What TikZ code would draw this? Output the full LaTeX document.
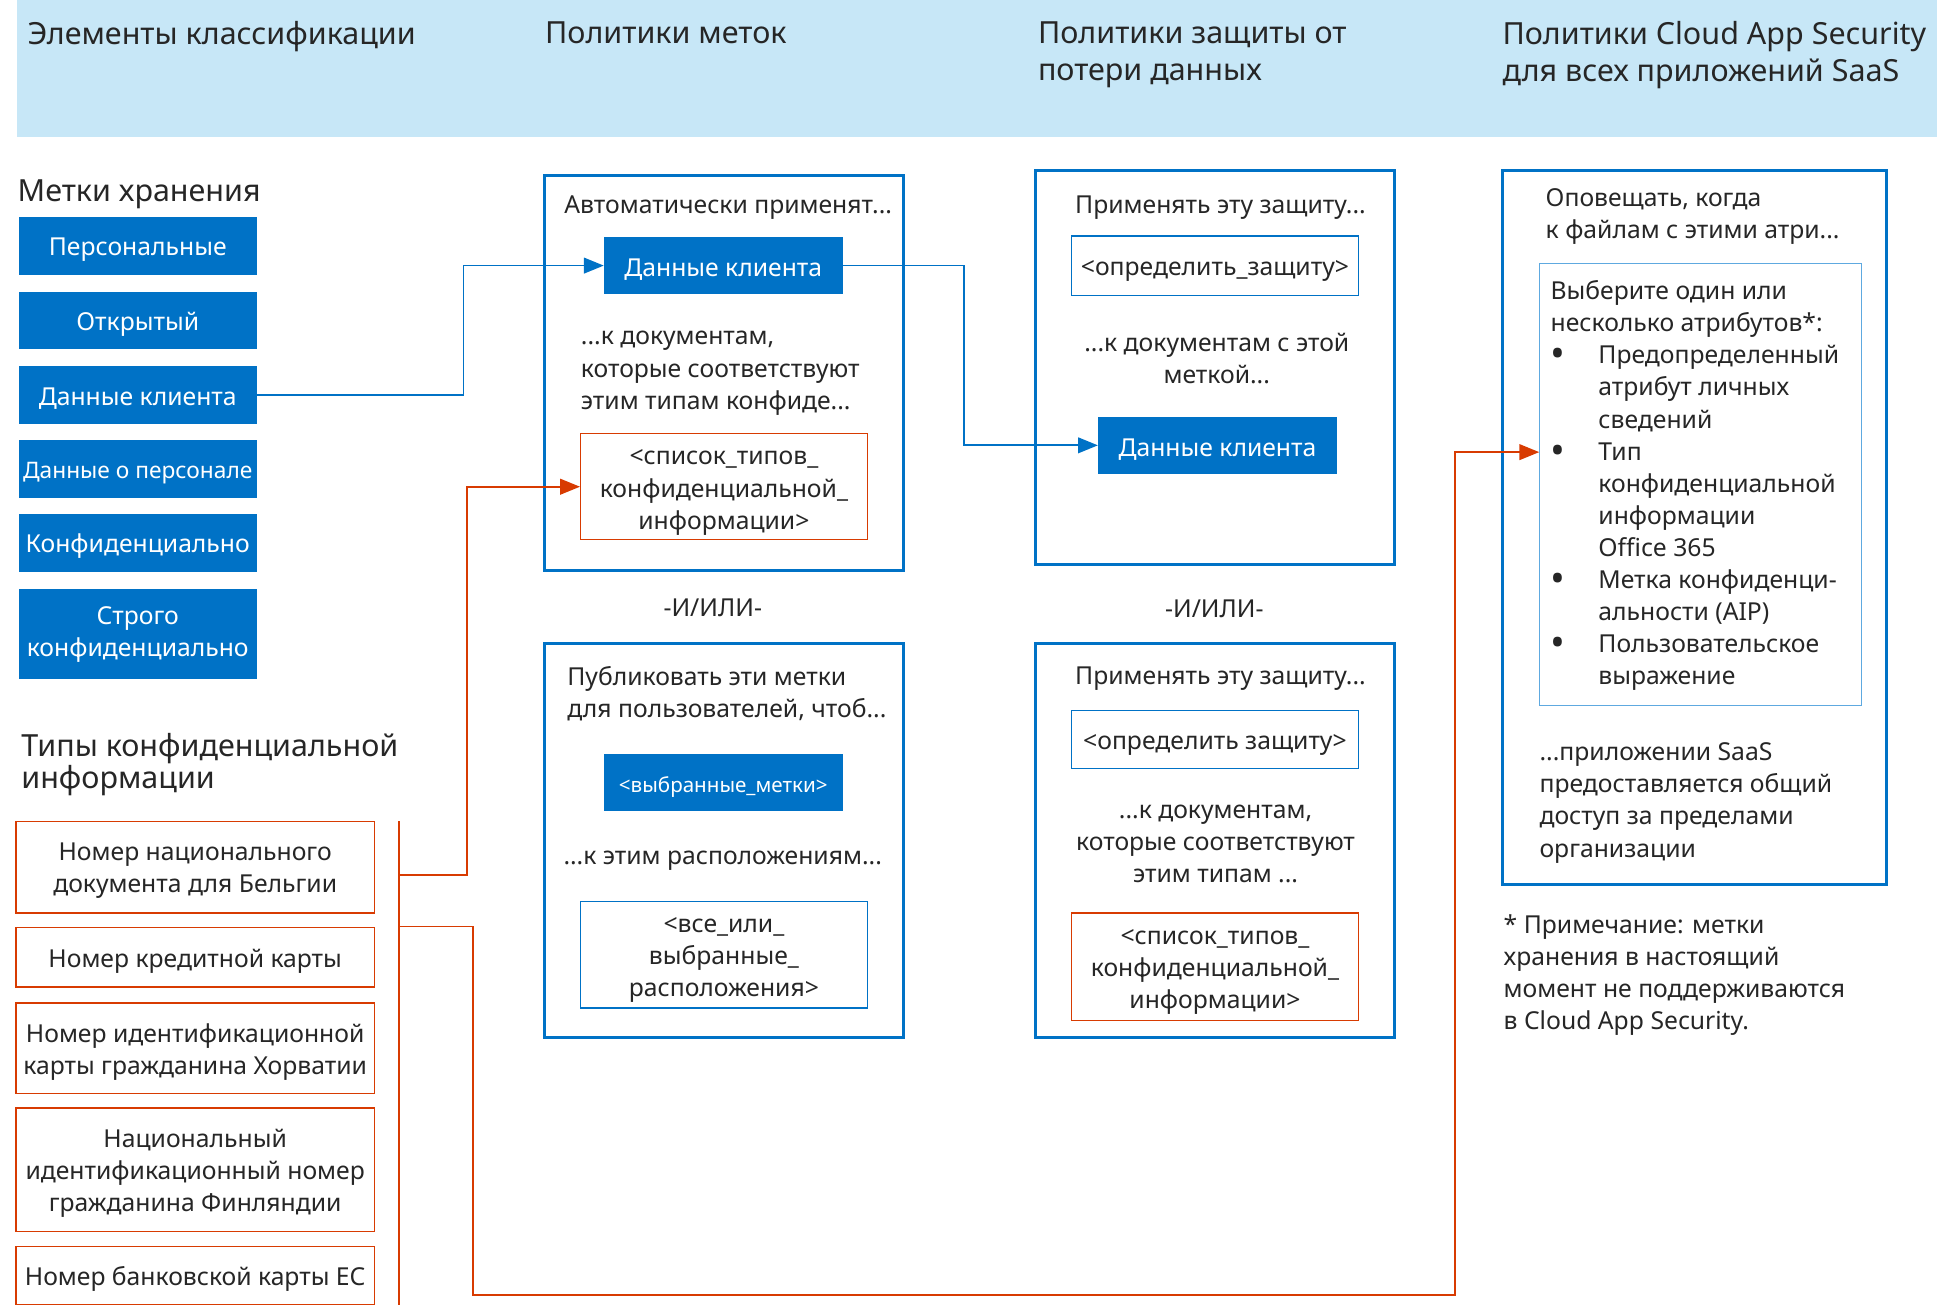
\documentclass[tikz,border=0pt]{standalone}
\usepackage{fontspec}
\setmainfont{Noto Sans}
\usepackage{xcolor}
\usetikzlibrary{arrows.meta, positioning}

\definecolor{msblue}{HTML}{0072C6}
\definecolor{msorange}{HTML}{D83B01}
\definecolor{headband}{HTML}{C7E7F7}
\definecolor{lightframe}{HTML}{5EA9E0}
\definecolor{ink}{HTML}{262626}

\newcommand{\boxstrut}{\rule{0pt}{15.5pt}}
\newcommand{\bigdot}{\raisebox{-2.5pt}{\fontsize{24}{19.5}\selectfont\textbullet}}

\tikzset{
  headtext/.style={anchor=north west, inner sep=0, align=left, text=ink, font=\fontsize{18.5}{22.5}\selectfont},
  bodytext/.style={inner sep=0, text=ink, font=\fontsize{15}{19.5}\selectfont},
  boxtext/.style={inner sep=0, text=ink, align=center, font=\fontsize{15}{19.5}\selectfont},
  labelbox/.style={fill=msblue, text=white, minimum width=144.75pt, minimum height=35pt, inner sep=1pt, align=center, font=\fontsize{15}{19.5}\selectfont, execute at begin node=\boxstrut},
  typebox/.style={draw=msorange, line width=0.75pt, text=ink, minimum width=217.5pt, inner sep=1pt, align=center, font=\fontsize{15}{19.5}\selectfont, execute at begin node=\boxstrut},
  placebox/.style={draw=msblue, line width=0.75pt, text=ink, minimum width=174.5pt, inner sep=1pt, align=center, font=\fontsize{15}{19.5}\selectfont, execute at begin node=\boxstrut},
  policybox/.style={draw=msblue, line width=1.8pt, minimum width=218pt, minimum height=239.5pt},
  blueflow/.style={draw=msblue, line width=1.1pt, -{Triangle[length=12pt, width=9.5pt]}},
  orangeflow/.style={draw=msorange, line width=1.1pt, -{Triangle[length=12pt, width=9.5pt]}}
}

\begin{document}
\begin{tikzpicture}[x=0.75pt, y=-0.75pt]
  \useasboundingbox (0,0) rectangle (1568,1059);

  % header
  \fill[headband] (14,0) rectangle (1568,111);
  \node[headtext] (headclass) at (22,17) {Элементы классификации};
  \node[headtext] (headlabel) at (441,17) {Политики меток};
  \node[headtext] (headdlp) at (840,17) {Политики защиты от\\потери данных};
  \node[headtext] (headcas) at (1216,17) {Политики Cloud App Security\\для всех приложений SaaS};

  % classification
  \node[headtext] (retention) at (14,145) {Метки хранения};
  \node[labelbox] (lblpersonal) at (111.5,199) {Персональные};
  \node[labelbox] (lblpublic) at (111.5,259.5) {Открытый};
  \node[labelbox] (lblclient) at (111.5,319.5) {Данные клиента};
  \node[labelbox, font=\fontsize{13.8}{19.5}\selectfont] (lblstaff) at (111.5,379.5) {Данные о персонале};
  \node[labelbox] (lblconf) at (111.5,439.5) {Конфиденциально};
  \node[labelbox, minimum height=54.75pt, execute at begin node={}] (lblstrict) at (111.5,513.5) {Строго\\конфиденциально};

  \node[headtext, font=\fontsize{18.5}{19.5}\selectfont] (sensitive) at (17,593) {Типы конфиденциальной\\информации};
  \node[typebox, minimum height=55.5pt] (typebel) at (158,702) {};
  \node[boxtext] (typebeltext) at ([yshift=-2.25pt]typebel.center) {Номер национального\\документа для Бельгии};
  \node[typebox, minimum height=36pt] (typecard) at (158,775) {Номер кредитной карты};
  \node[typebox, minimum height=54.75pt] (typecro) at (158,848.5) {};
  \node[boxtext] (typecrotext) at ([yshift=-2.25pt]typecro.center) {Номер идентификационной\\карты гражданина Хорватии};
  \node[typebox, minimum height=75pt] (typefin) at (158,947) {};
  \node[boxtext] (typefintext) at ([yshift=-2.25pt]typefin.center) {Национальный\\идентификационный номер\\гражданина Финляндии};
  \node[typebox, minimum height=35.25pt] (typeeu) at (158,1032.5) {Номер банковской карты ЕС};

  % label policies
  \node[policybox, minimum height=240pt] (autobox) at (586,302) {};
  \node[bodytext] (autohead) at (589.5,168) {Автоматически применят...};
  \node[labelbox] (autoclient) at (585.5,215) {Данные клиента};
  \node[bodytext, anchor=north west, align=left] (autodocs) at (470,268) {...к документам,\\которые соответствуют\\этим типам конфиде...};
  \node[typebox, minimum width=174pt, minimum height=64.5pt] (autolist) at (586,394) {};
  \node[boxtext] (autolisttext) at ([yshift=-3.5pt]autolist.center) {<список\_типов\_\\конфиденциальной\_\\информации>};

  \node[bodytext] (andor1) at (577,492) {-И/ИЛИ-};

  \node[policybox] (pubbox) at (586,680.5) {};
  \node[bodytext, anchor=north west, align=left] (pubhead) at (459,539) {Публиковать эти метки\\для пользователей, чтоб...};
  \node[labelbox, font=\fontsize{12.5}{15}\selectfont] (pubchoice) at (585.5,633.5) {<выбранные\_метки>};
  \node[bodytext] (pubwhere) at (585,697) {...к этим расположениям...};
  \node[placebox, minimum height=64.5pt] (publoc) at (586,773) {};
  \node[boxtext] (publoctext) at ([yshift=-3pt]publoc.center) {<все\_или\_\\выбранные\_\\расположения>};

  % dlp policies
  \node[policybox] (dlpbox) at (983.5,297.5) {};
  \node[bodytext] (dlphead) at (988,168) {Применять эту защиту...};
  \node[placebox, minimum height=36pt] (dlpdefine) at (983.5,215) {<определить\_защиту>};
  \node[bodytext, align=center] (dlpdocs) at (985,290) {...к документам с этой\\меткой...};
  \node[labelbox] (dlpclient) at (985.5,360.5) {Данные клиента};

  \node[bodytext] (andor2) at (983,493) {-И/ИЛИ-};

  \node[policybox] (dlptypebox) at (983.5,680.5) {};
  \node[bodytext] (dlptypehead) at (988,549) {Применять эту защиту...};
  \node[placebox, minimum height=35.25pt] (dlpdefine2) at (983.5,598.5) {<определить защиту>};
  \node[bodytext, align=center] (dlptypedocs) at (984,683) {...к документам,\\которые соответствуют\\этим типам ...};
  \node[typebox, minimum width=174.5pt, minimum height=65.25pt] (dlplist) at (983.5,782.5) {};
  \node[boxtext] (dlplisttext) at ([yshift=-3pt]dlplist.center) {<список\_типов\_\\конфиденциальной\_\\информации>};

  % cloud app security
  \node[policybox, minimum width=233.25pt, minimum height=433.5pt] (casbox) at (1371.5,427) {};
  \node[bodytext, anchor=north west, align=left] (cashead) at (1251,152) {Оповещать, когда\\к файлам с этими атри...};
  \node[draw=lightframe, line width=0.75pt, minimum width=195.75pt, minimum height=268.5pt] (attrbox) at (1376.5,392) {};
  \node[bodytext, anchor=north west] (attrlist) at (1255,224) {%
    \begin{tabular}{@{}p{29pt}@{}l@{}}
      \multicolumn{2}{@{}l@{}}{Выберите один или}\\
      \multicolumn{2}{@{}l@{}}{несколько атрибутов*:}\\
      \bigdot & Предопределенный\\
              & атрибут личных\\
              & сведений\\
      \bigdot & Тип\\
              & конфиденциальной\\
              & информации\\
              & Office 365\\
      \bigdot & Метка конфиденци-\\
              & альности (AIP)\\
      \bigdot & Пользовательское\\
              & выражение
    \end{tabular}};
  \node[bodytext, anchor=north west, align=left] (casshare) at (1246,601) {...приложении SaaS\\предоставляется общий\\доступ за пределами\\организации};
  \node[bodytext, anchor=north west, align=left] (casnote) at (1217,740) {* Примечание: метки\\хранения в настоящий\\момент не поддерживаются\\в Cloud App Security.};

  % connectors
  \coordinate (brtop) at (323,665);
  \coordinate (brbot) at (323,1056);
  \coordinate (brfirst) at (323,708);
  \coordinate (brsecond) at (323,750);
  \coordinate (attrin) at (1246,366);
  \draw[msorange, line width=1.1pt] (brtop) -- (brbot);
  \draw[orangeflow] (brfirst) -- ++(55,0) |- (autolist.west);
  \draw[orangeflow] (brsecond) -- ++(60,0) -- ++(0,298) -| ++(795,-682) -- (attrin);

  \draw[blueflow] (lblclient.east) -- ++(167,0) |- (autoclient.west);
  \draw[blueflow] (autoclient.east) -- ++(98,0) |- (dlpclient.west);
\end{tikzpicture}
\end{document}
